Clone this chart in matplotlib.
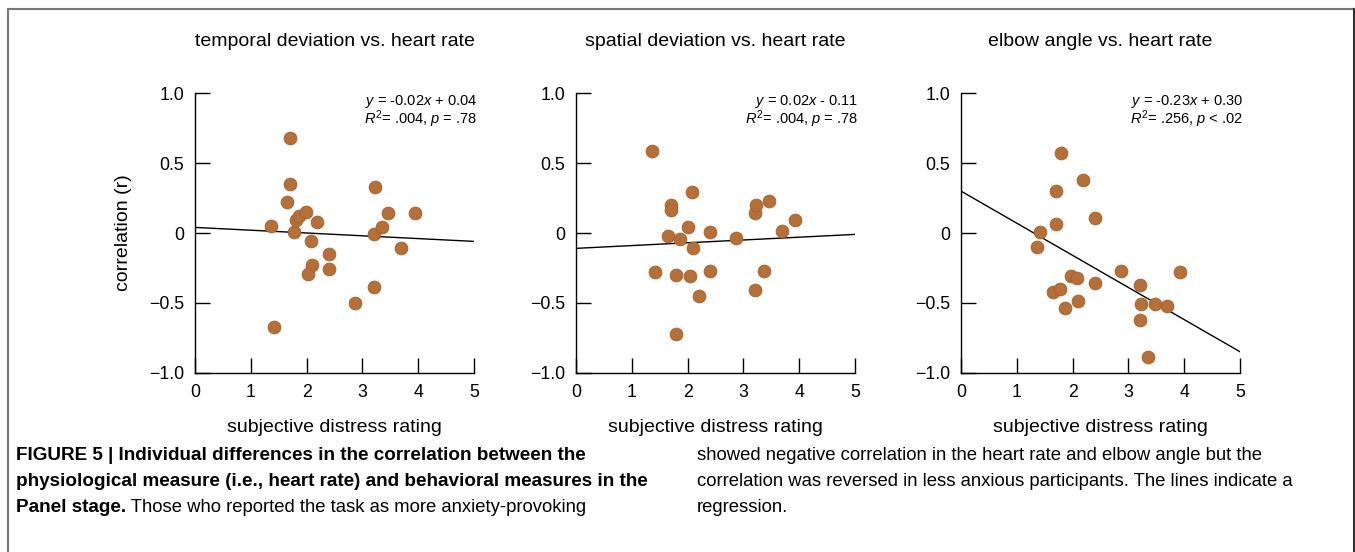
import numpy as np
import matplotlib.pyplot as plt
from matplotlib.lines import Line2D

plt.rcParams['font.family'] = ['Liberation Sans', 'DejaVu Sans']
plt.rcParams['mathtext.fontset'] = 'custom'
plt.rcParams['mathtext.rm'] = 'Liberation Sans'
plt.rcParams['mathtext.it'] = 'Liberation Sans:italic'

# panel titles and regression text
titles = ['temporal deviation vs. heart rate', 'spatial deviation vs. heart rate', 'elbow angle vs. heart rate']
equations = [r'$y$ = -0.02$x$ + 0.04', r'$y$ = 0.02$x$ - 0.11', r'$y$ = -0.23$x$ + 0.30']
stats = [r'$R^2$= .004, $p$ = .78', r'$R^2$= .004, $p$ = .78', r'$R^2$= .256, $p$ < .02']
slopes = [-0.02, 0.02, -0.23]
intercepts = [0.04, -0.11, 0.30]

# subjective distress rating (x) and correlation (y) per panel
temporal_x = [1.70, 1.70, 1.64, 1.36, 1.78, 1.81, 1.86, 1.99, 2.19, 2.08, 2.10, 2.03,
              2.40, 2.40, 1.42, 2.86, 3.20, 3.20, 3.23, 3.36, 3.46, 3.69, 3.94]
temporal_y = [0.68, 0.35, 0.22, 0.05, 0.01, 0.09, 0.12, 0.15, 0.08, -0.06, -0.23, -0.29,
              -0.15, -0.26, -0.67, -0.50, -0.39, -0.01, 0.33, 0.04, 0.14, -0.11, 0.14]

spatial_x = [1.37, 2.08, 1.71, 1.71, 1.65, 1.87, 2.00, 2.10, 2.40, 2.87, 1.42, 1.79,
             2.04, 2.40, 2.20, 1.80, 3.20, 3.37, 3.20, 3.23, 3.46, 3.70, 3.93]
spatial_y = [0.59, 0.29, 0.20, 0.165, -0.02, -0.045, 0.04, -0.105, 0.01, -0.035, -0.28, -0.30,
             -0.305, -0.27, -0.45, -0.72, -0.41, -0.27, 0.14, 0.20, 0.23, 0.015, 0.095]

elbow_x = [1.79, 2.19, 1.70, 2.40, 1.70, 1.42, 1.36, 1.98, 2.07, 2.86, 3.93, 1.64,
           1.78, 2.41, 2.09, 1.86, 3.21, 3.23, 3.48, 3.70, 3.21, 3.36]
elbow_y = [0.57, 0.38, 0.30, 0.11, 0.065, 0.01, -0.10, -0.305, -0.32, -0.275, -0.28, -0.425,
           -0.40, -0.36, -0.485, -0.535, -0.37, -0.51, -0.51, -0.52, -0.625, -0.885]

xs = [temporal_x, spatial_x, elbow_x]
ys = [temporal_y, spatial_y, elbow_y]

caption_left = [
    ('FIGURE 5 | Individual differences in the correlation between the', ''),
    ('physiological measure (i.e., heart rate) and behavioral measures in the', ''),
    ('Panel stage.', ' Those who reported the task as more anxiety-provoking'),
]
caption_right = [
    'showed negative correlation in the heart rate and elbow angle but the',
    'correlation was reversed in less anxious participants. The lines indicate a',
    'regression.',
]

W, H = 1355, 552
fig = plt.figure(figsize=(W / 100, H / 100), dpi=100)

lefts = [195, 576, 961]
ax_w = 279
ax_top, ax_bot = 93.3, 372.7
dot_color = '#b5703a'

for i in range(3):
    ax = fig.add_axes([lefts[i] / W, 1 - ax_bot / H, ax_w / W, (ax_bot - ax_top) / H])
    ax.scatter(xs[i], ys[i], s=85, color=dot_color, edgecolors='#a2602c', linewidths=0.6, zorder=3)
    line_x = np.array([0, 5])
    ax.plot(line_x, slopes[i] * line_x + intercepts[i], color='black', lw=1.0, zorder=2)
    ax.set_xlim(0, 5)
    ax.set_ylim(-1, 1)
    ax.set_xticks([0, 1, 2, 3, 4, 5])
    ax.set_yticks([1.0, 0.5, 0, -0.5, -1.0])
    ax.set_yticklabels(['1.0', '0.5', '0', '\u22120.5', '\u22121.0'])
    for side in ['top', 'right']:
        ax.spines[side].set_visible(False)
    for side in ['left', 'bottom']:
        ax.spines[side].set_linewidth(1.0)
    ax.tick_params(direction='in', length=11, width=1.0, labelsize=12.8, pad=8)
    ax.set_xlabel('subjective distress rating', fontsize=14, labelpad=13)
    ax.set_title(titles[i], fontsize=14, pad=34)
    ax.text(1.011, 0.969, equations[i], transform=ax.transAxes, ha='right', va='center', fontsize=10.5)
    ax.text(1.011, 0.908, stats[i], transform=ax.transAxes, ha='right', va='center', fontsize=10.5)
    if i == 0:
        ax.set_ylabel('correlation (r)', fontsize=14, labelpad=12)

# caption
cap_font = ['Liberation Sans Narrow', 'Liberation Sans']
line_y = [456, 481, 507]
for (bold, rest), yy in zip(caption_left, line_y):
    t = fig.text(16 / W, 1 - yy / H, bold, fontsize=13.6, fontweight='bold', family=cap_font, va='center')
    if rest:
        fig.canvas.draw()
        bb = t.get_window_extent()
        fig.text(bb.x1 / W, 1 - yy / H, rest, fontsize=13.3, family=cap_font, va='center')
for txt, yy in zip(caption_right, line_y):
    fig.text(697 / W, 1 - yy / H, txt, fontsize=13.3, family=cap_font, va='center')

# frame around the figure
fig.add_artist(Line2D([8 / W, 8 / W], [0, 1 - 9 / H], transform=fig.transFigure, color='#777777', lw=1.5))
fig.add_artist(Line2D([8 / W, 1354 / W], [1 - 9 / H, 1 - 9 / H], transform=fig.transFigure, color='#777777', lw=1.5))
fig.add_artist(Line2D([1354 / W, 1354 / W], [0, 1 - 9 / H], transform=fig.transFigure, color='#333333', lw=1.5))

fig.savefig('out.png', dpi=100)
